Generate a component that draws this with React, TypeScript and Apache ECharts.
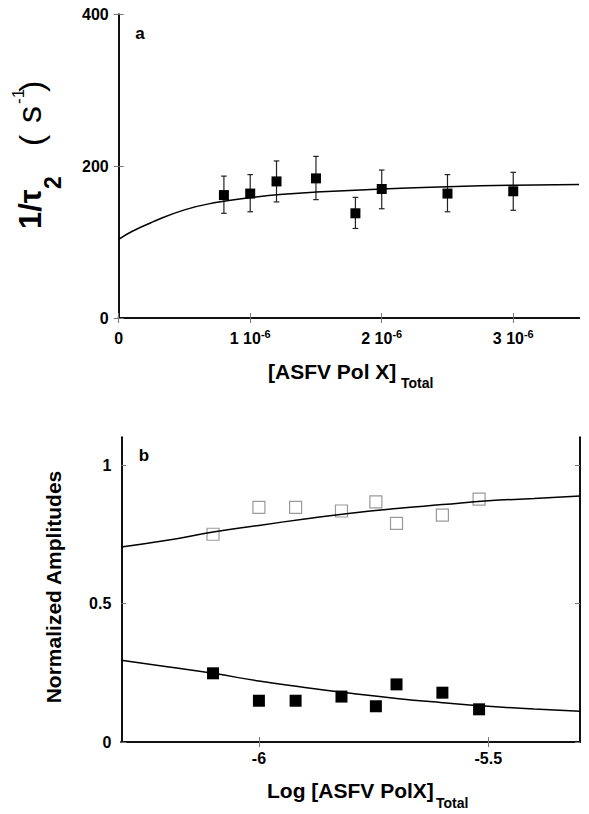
import React, { useEffect, useRef } from 'react';
import * as echarts from 'echarts';

// Panel a: relaxation rate vs total ASFV Pol X concentration
const concA = [0.8e-6, 1.0e-6, 1.2e-6, 1.5e-6, 1.8e-6, 2.0e-6, 2.5e-6, 3.0e-6];
const rateA = [162, 164, 180, 184, 138, 170, 164, 167];
const rateHi = [187, 189, 207, 213, 159, 195, 189, 192];
const rateLo = [138, 140, 153, 156, 118, 144, 140, 142];
const fitAx = [0, 0.1e-6, 0.25e-6, 0.5e-6, 0.75e-6, 1.0e-6, 1.25e-6, 1.5e-6, 2.0e-6, 2.5e-6, 3.0e-6, 3.5e-6];
const fitAy = [103.7, 114, 126, 142.5, 152.5, 158.5, 163, 166, 170, 173, 175, 176];

// Panel b: normalized amplitudes vs log concentration
const logConcB = [-6.1, -6.0, -5.92, -5.82, -5.745, -5.7, -5.6, -5.52];
const ampOpen = [0.75, 0.847, 0.847, 0.834, 0.867, 0.789, 0.819, 0.877];
const ampFilled = [0.248, 0.149, 0.149, 0.164, 0.129, 0.208, 0.178, 0.118];
const fitBx = [-6.3, -6.2, -6.1, -6.0, -5.9, -5.8, -5.7, -5.6, -5.5, -5.4, -5.3];
const fitOpenY = [0.704, 0.728, 0.758, 0.782, 0.805, 0.826, 0.843, 0.857, 0.871, 0.879, 0.888];
const fitFilledY = [0.295, 0.272, 0.248, 0.22, 0.197, 0.176, 0.157, 0.142, 0.129, 0.119, 0.111];

// Tick values
const xTicksA = [0, 1e-6, 2e-6, 3e-6];
const yTicksA = [0, 200, 400];
const xTicksB = [-6, -5.5];
const yTicksB = [0, 0.5, 1];

const FONT = '"Liberation Sans", Arial, Helvetica, sans-serif';
const AXIS_LINE = { show: true, lineStyle: { color: '#111', width: 2 } };
const TICK_STYLE = { color: '#777', width: 1 };

function mainAxis(grid: number, min: number, max: number, ticks: number[], extraLabel: any) {
  return {
    type: 'value',
    gridIndex: grid,
    min,
    max,
    axisLine: AXIS_LINE,
    axisTick: { show: true, inside: true, length: 5, lineStyle: TICK_STYLE, customValues: ticks },
    axisLabel: {
      show: true,
      customValues: ticks,
      color: '#000',
      fontFamily: FONT,
      fontWeight: 'bold',
      fontSize: 16,
      ...extraLabel,
    },
    splitLine: { show: false },
  };
}

function mirrorAxis(grid: number, min: number, max: number, ticks: number[], position: string) {
  return {
    type: 'value',
    gridIndex: grid,
    position,
    min,
    max,
    axisLine: AXIS_LINE,
    axisTick: { show: true, inside: true, length: 5, lineStyle: TICK_STYLE, customValues: ticks },
    axisLabel: { show: false },
    splitLine: { show: false },
  };
}

export default function App() {
  const ref = useRef<HTMLDivElement>(null);

  useEffect(() => {
    if (!ref.current) return;
    const chart = echarts.init(ref.current, null, { renderer: 'svg' });

    const txt = (text: string, x: number, y: number, size: number, opts: any = {}) => ({
      type: 'text',
      x,
      y,
      rotation: opts.rotation || 0,
      style: {
        text,
        fill: '#000',
        fontFamily: FONT,
        fontSize: size,
        fontWeight: opts.weight || 'bold',
        textAlign: opts.align || 'left',
        textVerticalAlign: 'middle',
      },
    });
    const R = Math.PI / 2;

    const option: any = {
      animation: false,
      backgroundColor: '#fff',
      grid: [
        { left: 118.7, top: 14.5, width: 460.3, height: 303.5, outerBoundsMode: 'none' },
        { left: 121.3, top: 437.3, width: 458.7, height: 304.7, outerBoundsMode: 'none' },
      ],
      xAxis: [
        {
          ...mainAxis(0, 0, 3.5e-6, xTicksA, {
            margin: 10,
            formatter: (v: number) => (v === 0 ? '{n|0}' : `{n|${Math.round(v * 1e6)} 10}{s|-6}`),
            rich: {
              n: { fontFamily: FONT, fontWeight: 'bold', fontSize: 16, lineHeight: 20, color: '#000' },
              s: { fontFamily: FONT, fontWeight: 'bold', fontSize: 11, lineHeight: 12, verticalAlign: 'top', color: '#000' },
            },
          }),
          position: 'bottom',
        },
        mirrorAxis(0, 0, 3.5e-6, xTicksA, 'top'),
        { ...mainAxis(1, -6.3, -5.3, xTicksB, { margin: 8, formatter: (v: number) => String(v) }), position: 'bottom' },
        mirrorAxis(1, -6.3, -5.3, xTicksB, 'top'),
      ],
      yAxis: [
        { ...mainAxis(0, 0, 400, yTicksA, { margin: 10, formatter: (v: number) => String(v) }), position: 'left' },
        mirrorAxis(0, 0, 400, yTicksA, 'right'),
        { ...mainAxis(1, 0, 1.1, yTicksB, { margin: 10, formatter: (v: number) => String(v) }), position: 'left' },
        mirrorAxis(1, 0, 1.1, yTicksB, 'right'),
      ],
      series: [
        {
          type: 'custom',
          xAxisIndex: 0,
          yAxisIndex: 0,
          encode: { x: 0, y: [1, 2] },
          data: concA.map((c, i) => [c, rateLo[i], rateHi[i]]),
          renderItem: (_p: any, api: any) => {
            const x = api.value(0);
            const lo = api.coord([x, api.value(1)]);
            const hi = api.coord([x, api.value(2)]);
            const w = 2.8;
            const st = { stroke: '#222', lineWidth: 1.2 };
            return {
              type: 'group',
              children: [
                { type: 'line', shape: { x1: lo[0], y1: lo[1], x2: hi[0], y2: hi[1] }, style: st },
                { type: 'line', shape: { x1: lo[0] - w, y1: lo[1], x2: lo[0] + w, y2: lo[1] }, style: st },
                { type: 'line', shape: { x1: hi[0] - w, y1: hi[1], x2: hi[0] + w, y2: hi[1] }, style: st },
              ],
            };
          },
        },
        {
          type: 'line',
          xAxisIndex: 0,
          yAxisIndex: 0,
          smooth: true,
          showSymbol: false,
          lineStyle: { color: '#000', width: 1.5 },
          data: fitAx.map((x, i) => [x, fitAy[i]]),
        },
        {
          type: 'scatter',
          xAxisIndex: 0,
          yAxisIndex: 0,
          symbol: 'rect',
          symbolSize: 10,
          itemStyle: { color: '#000', opacity: 1 },
          data: concA.map((x, i) => [x, rateA[i]]),
        },
        {
          type: 'line',
          xAxisIndex: 2,
          yAxisIndex: 2,
          smooth: true,
          showSymbol: false,
          lineStyle: { color: '#000', width: 1.5 },
          data: fitBx.map((x, i) => [x, fitOpenY[i]]),
        },
        {
          type: 'line',
          xAxisIndex: 2,
          yAxisIndex: 2,
          smooth: true,
          showSymbol: false,
          lineStyle: { color: '#000', width: 1.5 },
          data: fitBx.map((x, i) => [x, fitFilledY[i]]),
        },
        {
          type: 'scatter',
          xAxisIndex: 2,
          yAxisIndex: 2,
          symbol: 'rect',
          symbolSize: 12,
          itemStyle: { color: '#fff', borderColor: '#9a9a9a', borderWidth: 1.2, opacity: 1 },
          data: logConcB.map((x, i) => [x, ampOpen[i]]),
        },
        {
          type: 'scatter',
          xAxisIndex: 2,
          yAxisIndex: 2,
          symbol: 'rect',
          symbolSize: 12,
          itemStyle: { color: '#000', opacity: 1 },
          data: logConcB.map((x, i) => [x, ampFilled[i]]),
        },
      ],
      graphic: [
        txt('a', 140, 33, 17, { align: 'center' }),
        txt('b', 144, 455, 17, { align: 'center' }),
        txt('[ASFV Pol X]', 268, 371, 21),
        txt('Total', 401, 383, 14),
        txt('Log [ASFV PolX]', 267, 790, 21),
        txt('Total', 436, 803, 14),
        txt('Normalized Amplitudes', 53, 587, 21, { rotation: R, align: 'center' }),
        txt('1/τ', 30, 229, 31, { rotation: R }),
        txt('2', 53, 189, 23, { rotation: R }),
        txt('(', 31, 146, 34, { rotation: R, weight: 'normal' }),
        txt('s', 29, 123, 34, { rotation: R, weight: 'normal' }),
        txt('-1', 18, 104, 17, { rotation: R, weight: 'normal' }),
        txt(')', 31, 92, 34, { rotation: R, weight: 'normal' }),
      ],
    };

    chart.setOption(option);
    return () => chart.dispose();
  }, []);

  return (
    <div
      ref={ref}
      style={{ position: 'absolute', left: 0, top: 0, width: 589, height: 814, background: '#fff' }}
    />
  );
}
